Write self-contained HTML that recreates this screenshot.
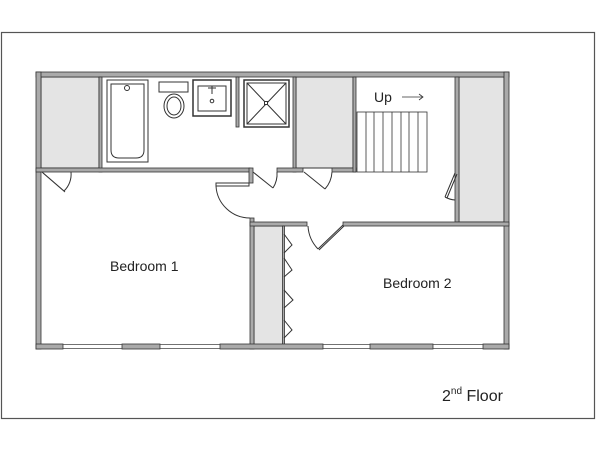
<!DOCTYPE html>
<html><head><meta charset="utf-8"><style>
html,body{margin:0;padding:0;background:#fff;}
svg{display:block;}
text{font-family:"Liberation Sans",Arial,sans-serif;fill:#222;}
</style></head><body>
<svg width="600" height="450" viewBox="0 0 600 450" xmlns="http://www.w3.org/2000/svg">
<rect x="1.5" y="32.5" width="593" height="386" fill="#fff" stroke="#555" stroke-width="1.2"/>
<!-- gray closets -->
<g fill="#e4e4e4" stroke="#333" stroke-width="1">
<rect x="41" y="77" width="58" height="91"/>
<rect x="296" y="77" width="57" height="91"/>
<rect x="459" y="77" width="45" height="145"/>
<rect x="254" y="226" width="29" height="119"/>
</g>
<!-- walls -->
<g fill="#aaa" stroke="#333" stroke-width="0.8">
<rect x="36" y="72" width="473" height="5"/>
<rect x="36" y="72" width="5" height="277"/>
<rect x="504" y="72" width="5" height="277"/>
<rect x="99" y="77" width="3" height="95"/>
<rect x="36" y="168" width="214" height="4"/>
<rect x="293" y="77" width="3" height="95"/>
<rect x="277" y="168" width="26" height="4"/>
<rect x="332" y="168" width="24" height="4"/>
<rect x="353" y="77" width="3" height="95"/>
<rect x="455" y="77" width="4" height="145"/>
<rect x="249" y="168" width="4" height="15"/>
<rect x="250" y="218" width="4" height="131"/>
<rect x="250" y="222" width="57" height="4"/>
<rect x="343" y="222" width="166" height="4"/>
<rect x="236" y="77" width="3" height="50"/>
<rect x="282.5" y="226" width="2" height="119"/>
<rect x="36" y="344" width="27" height="5"/>
<rect x="122" y="344" width="38" height="5"/>
<rect x="220" y="344" width="103" height="5"/>
<rect x="370" y="344" width="63" height="5"/>
<rect x="483" y="344" width="26" height="5"/>
</g>
<!-- windows -->
<g stroke="#444" stroke-width="0.8" fill="none">
<path d="M63 344.5H122M63 348.5H122M160 344.5H220M160 348.5H220M323 344.5H370M323 348.5H370M433 344.5H483M433 348.5H483"/>
</g>
<!-- fixtures -->
<g fill="#fff" stroke="#333" stroke-width="1">
<rect x="107" y="80" width="41" height="82"/>
<path d="M111 84h33v66q0 8-8 8h-17q-8 0-8-8z"/>
<circle cx="127" cy="88" r="2.5"/>
<rect x="159" y="82" width="29" height="10"/>
<ellipse cx="174" cy="106" rx="10" ry="12"/>
<ellipse cx="174" cy="106" rx="7" ry="9"/>
<rect x="193" y="80" width="38" height="36" stroke-width="1.5"/>
<rect x="198" y="86" width="28" height="25"/>
<circle cx="212" cy="101" r="1.8"/>
<path d="M212 86v8M208 88h8"/>
<rect x="244" y="80" width="45" height="47" stroke-width="1.5"/>
<rect x="247" y="83" width="39" height="41"/>
<path d="M247 83L286 124M286 83L247 124"/>
<rect x="264.5" y="101.5" width="3" height="3"/>
</g>
<!-- stairs -->
<g stroke="#333" stroke-width="0.8" fill="none">
<rect x="357" y="112" width="70" height="60"/>
<path d="M366 112v60M374 112v60M383 112v60M392 112v60M401 112v60M409 112v60M418 112v60"/>
<path d="M402 97h21M419 94l4 3-4 3"/>
</g>
<text x="374" y="102" font-size="14">Up</text>
<!-- doors -->
<g stroke="#333" stroke-width="1" fill="none">
<path d="M42 172L64 191M43 173L65 192"/>
<path d="M64 191A23 23 0 0 0 71 172"/>
<path d="M253 172L273 188"/>
<path d="M273 188A26 26 0 0 0 277 172"/>
<path d="M304 172L325 189"/>
<path d="M325 189A28 28 0 0 0 332 172"/>
<path d="M216 183H249V186H216Z"/>
<path d="M216 186A34 34 0 0 0 250 218"/>
<path d="M455 173L445 197M457 174L447 198"/>
<path d="M445 197A25 25 0 0 0 455 200"/>
<path d="M343 225L318 249M344 226L319 250"/>
<path d="M318 249A36 36 0 0 1 308 226"/>
<path d="M284 234L292 245L284 253M284 258L292 270L284 277M284 290L293 300L284 308M284 320L292 330L284 338"/>
</g>
<text x="110" y="271" font-size="14">Bedroom 1</text>
<text x="383" y="288" font-size="14">Bedroom 2</text>
<text x="442" y="401" font-size="16">2<tspan font-size="10" dy="-7">nd</tspan><tspan dy="7"> Floor</tspan></text>
</svg>
</body></html>
